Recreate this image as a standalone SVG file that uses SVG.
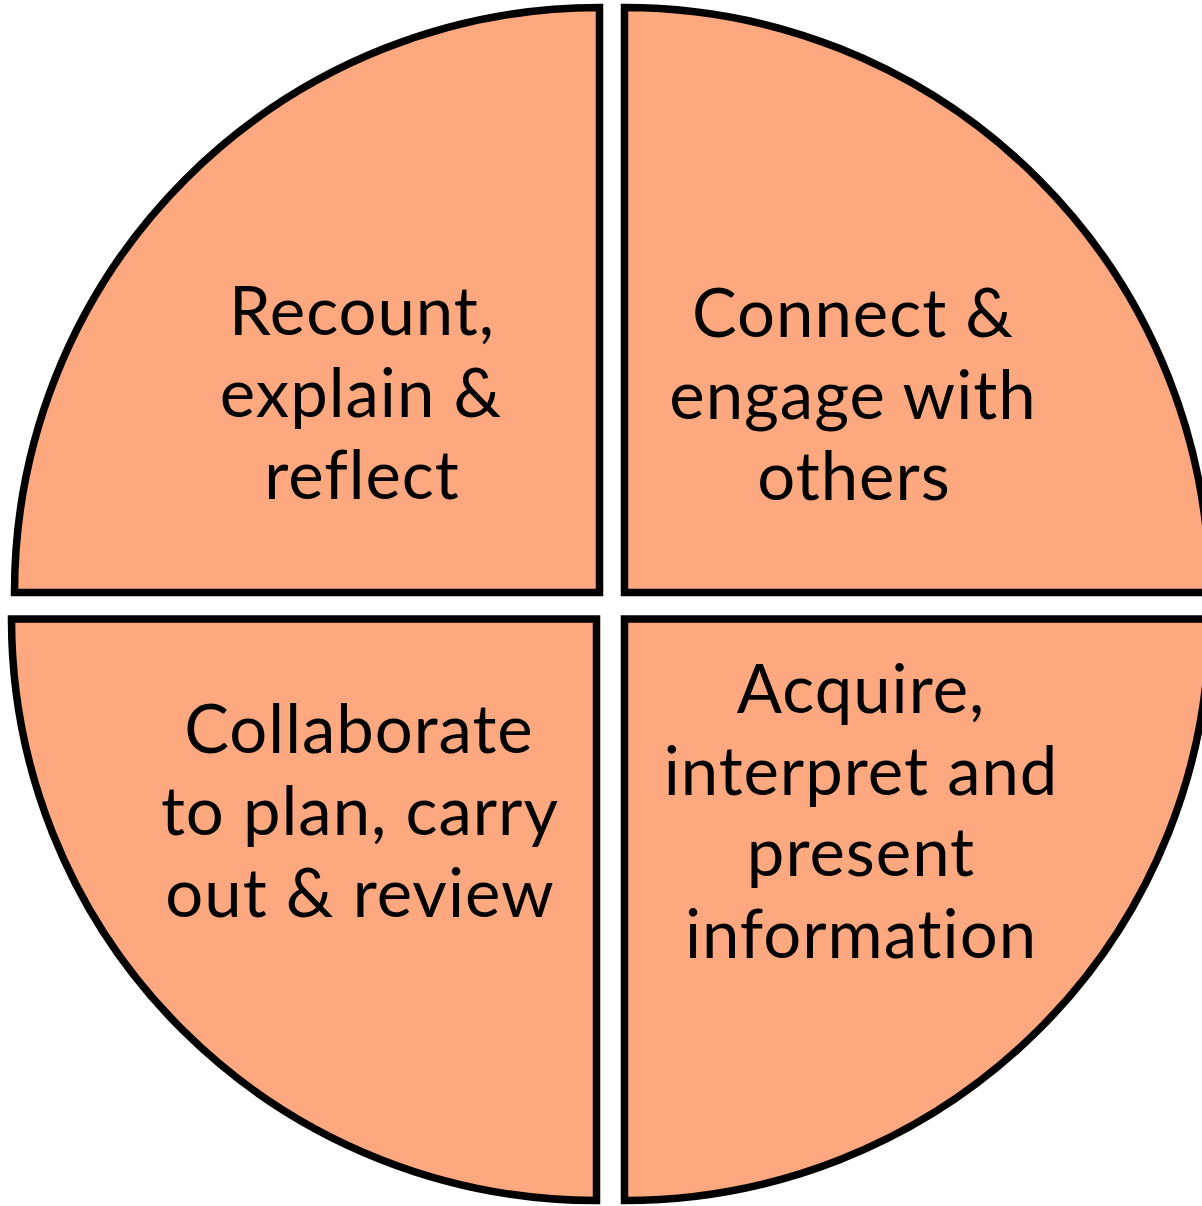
<svg xmlns="http://www.w3.org/2000/svg" width="1202" height="1206" viewBox="0 0 1202 1206">
<style>
.q{fill:#FDA87F;stroke:#000;stroke-width:7.5;stroke-linejoin:miter}
.t{font-family:Lato,"Liberation Sans",sans-serif;font-size:67px;letter-spacing:1px;font-variant-ligatures:none;fill:#000;text-anchor:middle}
</style>
<rect width="1202" height="1206" fill="#fff"/>
<g id="recount">
<path class="q" d="M599.5 592.5 L14.5 592.5 A585 585 0 0 1 599.5 7.5 Z"/>
<text class="t" x="362" y="335">Recount,</text>
<text class="t" x="361" y="417">explain &amp;</text>
<text class="t" x="362" y="499">reflect</text>
</g>
<g id="connect">
<path class="q" d="M624.5 592.5 L624.5 7.5 A585 585 0 0 1 1209.5 592.5 Z"/>
<text class="t" x="853" y="337">Connect &amp;</text>
<text class="t" x="853" y="419">engage with</text>
<text class="t" x="854" y="500">others</text>
</g>
<g id="collaborate">
<path class="q" d="M596.5 619 L596.5 1200.5 A585 581.5 0 0 1 11.5 619 Z"/>
<text class="t" x="359" y="753">Collaborate</text>
<text class="t" x="360" y="835">to plan, carry</text>
<text class="t" x="360" y="917">out &amp; review</text>
</g>
<g id="acquire">
<path class="q" d="M624.5 619 L1209.5 619 A585 581.5 0 0 1 624.5 1200.5 Z"/>
<text class="t" x="861" y="713">Acquire,</text>
<text class="t" x="861" y="795">interpret and</text>
<text class="t" x="861" y="876">present</text>
<text class="t" x="861" y="958">information</text>
</g>
<g id="connectors"/>
</svg>
